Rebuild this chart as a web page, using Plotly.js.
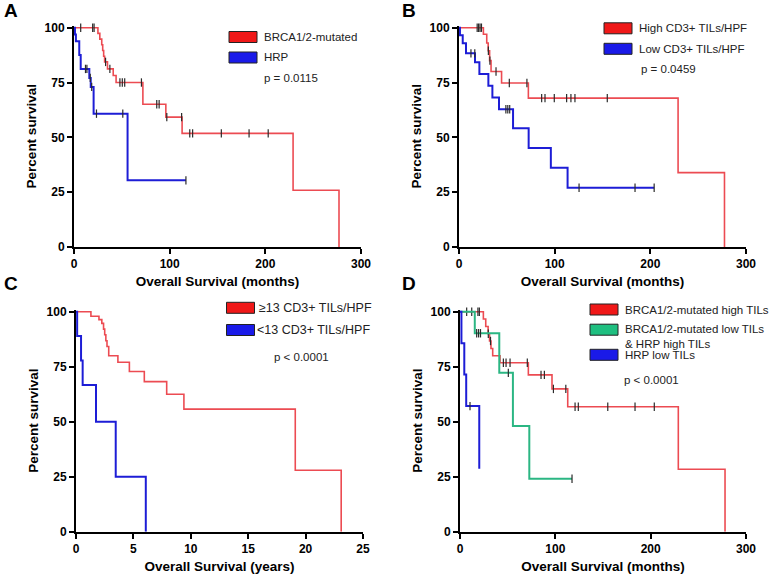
<!DOCTYPE html>
<html><head><meta charset="utf-8">
<script src="https://cdn.plot.ly/plotly-3.0.1.min.js"></script>
<style>html,body{margin:0;padding:0;background:#fff}#chart{width:771px;height:575px}</style>
</head><body><div id="chart"></div>
<script>
// ---------- DATA (event times, survival %, censor times) ----------
// Panel A (months)
const A_red_t = [25, 27, 29, 30, 31, 32, 35, 41, 44, 72, 96, 113, 229, 277];
const A_red_s = [97.4, 94.8, 92.2, 89.6, 87.0, 84.4, 81.2, 78.2, 75.0, 65.1, 59.2, 51.8, 25.9, 0];
const A_red_c = [7, 19.5, 21, 33, 37.5, 48, 50.5, 53, 70.5, 86.5, 89, 97, 112.5, 121, 124, 154, 183, 203];
const A_red_end = 277;
const A_blue_t = [1, 2, 5.5, 7, 16, 17.5, 20.5, 56];
const A_blue_s = [96.9, 93.8, 87.5, 81.2, 77.1, 73.0, 60.8, 30.4];
const A_blue_c = [12, 13.5, 17, 18.5, 23.5, 51, 117];
const A_blue_end = 117;
// Panel B (months)
const B_red_t = [25.5, 29, 30.5, 32, 33.5, 44.5, 72.5, 229, 277.5];
const B_red_s = [97, 93, 89.5, 85, 80, 74.8, 67.9, 33.9, 0];
const B_red_c = [19, 20.5, 22, 23.5, 30.7, 32.3, 38.7, 52.6, 71, 86.4, 89.9, 99.6, 112.5, 117, 121.2, 155];
const B_red_end = 277.5;
const B_blue_t = [1, 3.9, 7.3, 16.7, 21.3, 30.7, 34.9, 41.8, 56.5, 72.8, 96, 113.5];
const B_blue_s = [96.6, 92.9, 88.3, 84.2, 78.9, 73.5, 68.2, 62.8, 54.1, 45.1, 36.1, 27.0];
const B_blue_c = [12.5, 16.5, 49, 51, 53, 125.5, 184, 204];
const B_blue_end = 204;
// Panel C (years)
const C_red_t = [1.3, 2.0, 2.25, 2.4, 2.5, 2.6, 2.7, 2.85, 3.65, 4.65, 5.95, 7.9, 9.4, 19.1, 23.1];
const C_red_s = [97.9, 96.4, 94.7, 92.1, 89.5, 86.8, 84.2, 80.0, 77.0, 72.8, 68.2, 62.5, 55.7, 27.9, 0];
const C_red_c = [];
const C_red_end = 23.1;
const C_blue_t = [0.1, 0.44, 0.58, 1.74, 3.46, 6.08];
const C_blue_s = [88.9, 77.8, 66.7, 50, 25, 0];
const C_blue_c = [];
const C_blue_end = 6.08;
// Panel D (months)
const D_red_t = [24.5, 27, 29.5, 31, 32.5, 34.3, 42, 71.7, 96.5, 113, 229, 278];
const D_red_s = [96.7, 93.3, 90, 86.7, 83.3, 80, 76.8, 71.3, 64.9, 56.8, 28.4, 0];
const D_red_c = [7, 12.3, 18.8, 20.3, 29.7, 32, 45.5, 48.3, 52.5, 70.6, 85, 88.5, 98, 111, 120.7, 124.1, 155, 183.6, 203.8];
const D_red_end = 278;
const D_green_t = [15.5, 41.2, 55.5, 72.7];
const D_green_s = [90.2, 72.2, 48.0, 24.1];
const D_green_c = [17.5, 19.5, 21.5, 50.7, 117.5];
const D_green_end = 117.5;
const D_blue_t = [1.5, 4.5, 6.5, 20.2];
const D_blue_s = [85.7, 71.4, 57.1, 28.6];
const D_blue_c = [10.5];
const D_blue_end = 20.2;

const legA = ['BRCA1/2-mutated', 'HRP'];
const legB = ['High CD3+ TILs/HPF', 'Low CD3+ TILs/HPF'];
const legC = ['\u226513 CD3+ TILs/HPF', '<13 CD3+ TILs/HPF'];
const legD = ['BRCA1/2-mutated high TILs', 'BRCA1/2-mutated low TILs<br>& HRP high TILs', 'HRP low TILs'];
const pA = 'p = 0.0115', pB = 'p = 0.0459', pC = 'p < 0.0001', pD = 'p < 0.0001';
const xTicksM = [0, 100, 200, 300];
const xTicksY = [0, 5, 10, 15, 20, 25];
const yTicks = [0, 25, 50, 75, 100];

// ---------- STYLE ----------
const RED = '#ec4b52', BLUE = '#1d1dd6', GREEN = '#2bb683';
const RED_BOX = '#f01818', BLUE_BOX = '#1a1ae8', GREEN_BOX = '#1fbf80';
const FONT = 'Liberation Sans, Arial, sans-serif';
const W = 771, H = 575;
const px = x => x / W, py = y => 1 - y / H;

function stepXY(t, s, end) {
  const x = [0], y = [100];
  for (let i = 0; i < t.length; i++) { x.push(t[i]); y.push(s[i]); }
  if (end > t[t.length - 1]) { x.push(end); y.push(s[s.length - 1]); }
  return {x, y};
}
function survAt(t, s, c) {
  let v = 100;
  for (let i = 0; i < t.length; i++) if (t[i] <= c) v = s[i];
  return v;
}
const traces = [];
function addCurve(t, s, c, end, color, width, ax) {
  const d = stepXY(t, s, end);
  traces.push({type: 'scatter', mode: 'lines', x: d.x, y: d.y, xaxis: ax[0], yaxis: ax[1],
    line: {shape: 'hv', color: color, width: width}, hoverinfo: 'skip', showlegend: false});
  if (c.length) traces.push({type: 'scatter', mode: 'markers', x: c, y: c.map(v => survAt(t, s, v)),
    xaxis: ax[0], yaxis: ax[1], cliponaxis: false, hoverinfo: 'skip', showlegend: false,
    marker: {symbol: 'line-ns', size: 6, line: {width: 1.2, color: '#2a2a2a'}}});
}
addCurve(A_red_t, A_red_s, A_red_c, A_red_end, RED, 1.6, ['x', 'y']);
addCurve(A_blue_t, A_blue_s, A_blue_c, A_blue_end, BLUE, 2, ['x', 'y']);
addCurve(B_red_t, B_red_s, B_red_c, B_red_end, RED, 1.6, ['x2', 'y2']);
addCurve(B_blue_t, B_blue_s, B_blue_c, B_blue_end, BLUE, 2, ['x2', 'y2']);
addCurve(C_red_t, C_red_s, C_red_c, C_red_end, RED, 1.6, ['x3', 'y3']);
addCurve(C_blue_t, C_blue_s, C_blue_c, C_blue_end, BLUE, 2, ['x3', 'y3']);
addCurve(D_red_t, D_red_s, D_red_c, D_red_end, RED, 1.6, ['x4', 'y4']);
addCurve(D_green_t, D_green_s, D_green_c, D_green_end, GREEN, 2, ['x4', 'y4']);
addCurve(D_blue_t, D_blue_s, D_blue_c, D_blue_end, BLUE, 2, ['x4', 'y4']);

function xax(dom, ticks, title, anchor) {
  return {domain: dom, range: [0, ticks[ticks.length - 1]], anchor: anchor, tickvals: ticks,
    showline: true, linecolor: '#000', linewidth: 2, ticks: 'outside', ticklen: 5, tickwidth: 2, tickcolor: '#000',
    showgrid: false, zeroline: false, automargin: false, fixedrange: true,
    tickfont: {family: FONT, size: 12, color: '#000', weight: 'bold'},
    title: {text: title, standoff: 6, font: {family: FONT, size: 13.5, color: '#000', weight: 'bold'}}};
}
function yax(dom, anchor) {
  return {domain: dom, range: [0, 101], anchor: anchor, tickvals: yTicks,
    showline: true, linecolor: '#000', linewidth: 2, ticks: 'outside', ticklen: 5, tickwidth: 2, tickcolor: '#000',
    showgrid: false, zeroline: false, automargin: false, fixedrange: true,
    tickfont: {family: FONT, size: 12, color: '#000', weight: 'bold'},
    title: {text: 'Percent survival', standoff: 5, font: {family: FONT, size: 13.5, color: '#000', weight: 'bold'}}};
}
const topY = [py(247), py(25.5)], botY = [py(531.7), py(309.5)];

const shapes = [], annotations = [];
function box(x0, yc, color) {
  shapes.push({type: 'rect', xref: 'paper', yref: 'paper', x0: px(x0), x1: px(x0 + 28),
    y0: py(yc + 5.5), y1: py(yc - 5.5), fillcolor: color, line: {color: '#222', width: 1}});
}
function txt(x, y, s, opts) {
  annotations.push(Object.assign({xref: 'paper', yref: 'paper', x: px(x), y: py(y), text: s, showarrow: false,
    xanchor: 'left', yanchor: 'middle', align: 'left', font: {family: FONT, size: 11.5, color: '#222'}}, opts || {}));
}
// Panel letters
[['A', 2, 10], ['B', 400, 10], ['C', 2, 284], ['D', 400, 284]].forEach(l =>
  txt(l[1], l[2], l[0], {font: {family: FONT, size: 19, color: '#000', weight: 'bold'}}));
// Legend A
box(229, 37, RED_BOX); txt(262, 37, legA[0]);
box(229, 57.5, BLUE_BOX); txt(262, 57.5, legA[1]);
txt(262, 77.5, pA);
// Legend B
box(604, 28.3, RED_BOX); txt(637, 28.3, legB[0]);
box(604, 48.8, BLUE_BOX); txt(637, 48.8, legB[1]);
txt(639, 69, pB);
// Legend C
box(226.5, 307.8, RED_BOX); txt(257, 307.8, legC[0], {font: {family: FONT, size: 12.5, color: '#222'}});
box(226.5, 330, BLUE_BOX); txt(254.5, 330, legC[1], {font: {family: FONT, size: 12.5, color: '#222'}});
txt(272, 356.5, pC);
// Legend D
box(590, 309.5, RED_BOX); txt(622.5, 309.5, legD[0]);
box(590, 329.7, GREEN_BOX); txt(622.5, 336, legD[1]);
box(590, 354.8, BLUE_BOX); txt(622.5, 354.8, legD[2]);
txt(621.5, 380, pD);

const layout = {
  width: W, height: H, margin: {l: 0, r: 0, t: 0, b: 0}, paper_bgcolor: '#fff', plot_bgcolor: '#fff',
  showlegend: false, font: {family: FONT, color: '#000'},
  xaxis: xax([px(74), px(361)], xTicksM, 'Overall Survival (months)', 'y'),
  yaxis: yax(topY, 'x'),
  xaxis2: xax([px(459), px(746)], xTicksM, 'Overall Survival (months)', 'y2'),
  yaxis2: yax(topY, 'x2'),
  xaxis3: xax([px(76), px(363)], xTicksY, 'Overall Survival (years)', 'y3'),
  yaxis3: yax(botY, 'x3'),
  xaxis4: xax([px(460), px(746)], xTicksM, 'Overall Survival (months)', 'y4'),
  yaxis4: yax(botY, 'x4'),
  shapes: shapes, annotations: annotations
};
Plotly.newPlot('chart', traces, layout, {staticPlot: true, displayModeBar: false});
</script></body></html>
